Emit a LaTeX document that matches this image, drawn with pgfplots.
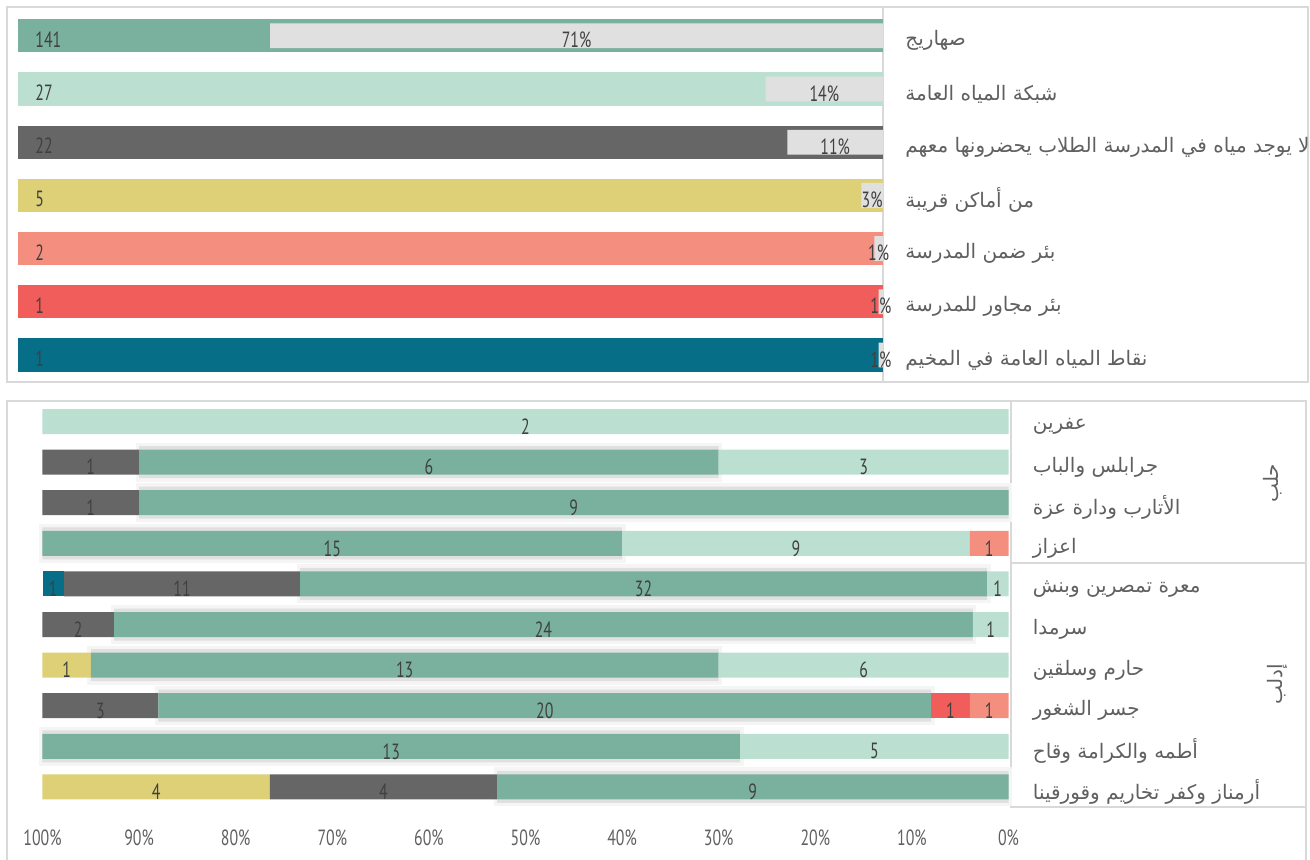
\documentclass[border=0pt]{standalone}
\usepackage{fontspec}
\usepackage{pgfplots}
\pgfplotsset{compat=1.18}
\TeXXeTstate=1
\setmainfont{PT Sans}[FakeStretch=0.72]
\newfontfamily\af[Script=Arabic]{DejaVu Sans}

\definecolor{cmid}{RGB}{122,177,158}
\definecolor{clight}{RGB}{187,224,210}
\definecolor{cdark}{RGB}{102,102,102}
\definecolor{cyellow}{RGB}{221,208,119}
\definecolor{csalmon}{RGB}{244,143,128}
\definecolor{cred}{RGB}{240,93,90}
\definecolor{cteal}{RGB}{7,110,135}
\definecolor{cpct}{RGB}{224,224,224}
\definecolor{cframe}{RGB}{217,217,217}
\definecolor{ctext}{RGB}{64,64,64}
\definecolor{clabel}{RGB}{96,96,96}

\tikzset{numfont/.style={font=\fontsize{11}{13}\selectfont, text=ctext}}
\pgfplotsset{
  bare/.style={
    scale only axis, clip=false,
    axis line style={draw=none}, tick style={draw=none},
  },
  bottomgeo/.style={
    at={(21.25pt,-200.6pt)}, anchor=north west,
    width=483pt, height=203pt,
    ymin=-0.5, ymax=9.5, y dir=reverse,
  },
}

\begin{document}
\begin{tikzpicture}
\useasboundingbox (0,0) rectangle (655pt,-430pt);

% frames
\draw[cframe, line width=1pt] (3.6pt,-3.6pt) rectangle (653.8pt,-190.9pt);
\draw[cframe, line width=1pt] (441.4pt,-3.6pt) -- (441.4pt,-190.9pt);
\draw[cframe, line width=1pt] (3.5pt,-440pt) -- (3.5pt,-200.5pt) -- (653pt,-200.5pt) -- (653pt,-440pt);
\draw[cframe, line width=1pt] (505.5pt,-200.5pt) -- (505.5pt,-403.5pt) -- (653pt,-403.5pt);
\draw[cframe, line width=1pt] (505.5pt,-281.6pt) -- (653pt,-281.6pt);

% ---- top panel: counts and shares
\begin{axis}[
  bare,
  at={(9pt,-4.6pt)}, anchor=north west,
  width=432.5pt, height=186.2pt,
  xmin=0, xmax=100, x dir=reverse,
  ymin=-0.5, ymax=6.5, y dir=reverse,
  xtick=\empty, ytick=\empty,
  cnt/.style={xbar, bar shift=0pt, bar width=16.6pt, draw=none,
    nodes near coords, point meta=explicit symbolic,
    every node near coord/.append style={numfont, anchor=west, inner sep=0pt,
      xshift=8.5pt, yshift=-1.8pt}},
  pct/.style={xbar, bar shift=0pt, bar width=12.4pt, draw=none, fill=cpct,
    nodes near coords, point meta=explicit symbolic,
    visualization depends on=rawx \as \rawxval,
    every node near coord/.append style={numfont, anchor=center, inner sep=0pt,
      shift={(axis direction cs:-\rawxval/2,0)}, yshift=-2.2pt}},
]
\addplot[cnt, fill=cmid]    coordinates {(100,0) [141]};
\addplot[cnt, fill=clight]  coordinates {(100,1) [27]};
\addplot[cnt, fill=cdark]   coordinates {(100,2) [22]};
\addplot[cnt, fill=cyellow] coordinates {(100,3) [5]};
\addplot[cnt, fill=csalmon] coordinates {(100,4) [2]};
\addplot[cnt, fill=cred]    coordinates {(100,5) [1]};
\addplot[cnt, fill=cteal]   coordinates {(100,6) [1]};
\addplot[pct] coordinates {(70.85,0) [71\%] (13.57,1) [14\%] (11.06,2) [11\%]
  (2.51,3) [3\%] (1.01,4) [1\%] (0.50,5) [1\%] (0.50,6) [1\%]};
\end{axis}

\begin{axis}[
  bare,
  at={(9pt,-4.6pt)}, anchor=north west,
  width=432.5pt, height=186.2pt,
  xmin=0, xmax=1, ymin=-0.5, ymax=6.5, y dir=reverse,
  xtick=\empty, ytick={0,...,6}, yticklabel pos=right,
  yticklabel style={anchor=west, inner sep=0pt, xshift=11pt, yshift=-2.5pt,
    font=\fontsize{10}{12}\selectfont, text=clabel},
  yticklabels={{\af\beginR صهاريج\endR},{\af\beginR شبكة المياه العامة\endR},
    {\af\beginR لا يوجد مياه في المدرسة الطلاب يحضرونها معهم\endR},
    {\af\beginR من أماكن قريبة\endR},{\af\beginR بئر ضمن المدرسة\endR},
    {\af\beginR بئر مجاور للمدرسة\endR},{\af\beginR نقاط المياه العامة في المخيم\endR}},
]
\end{axis}

% ---- bottom panel: soft shadow behind the tanker segments
\begin{axis}[
  bare, bottomgeo,
  xbar stacked, bar width=16pt,
  xmin=0, xmax=100, x dir=reverse,
  xtick=\empty, ytick=\empty,
]
% start of the tanker segment in each row (segments before it)
\addplot[draw=none, fill=none] coordinates {(100,0) (30,1) (0,2) (40,3) (2.22,4)
  (3.70,5) (30,6) (8,7) (27.78,8) (0,9)};
\addplot[draw=none, fill=black!12, preaction={draw=black!4, line width=3.5pt}]
  coordinates {(0,0) (60,1) (90,2) (60,3) (71.11,4)
  (88.89,5) (65,6) (80,7) (72.22,8) (52.94,9)};
\end{axis}

% ---- bottom panel: 100% stacked by district
\begin{axis}[
  bare, bottomgeo,
  xbar stacked, bar width=12.5pt,
  xmin=0, xmax=100, x dir=reverse,
  ytick=\empty,
  xtick={0,10,...,100},
  xticklabel={\pgfmathprintnumber{\tick}\%},
  /pgf/number format/assume math mode=true,
  xticklabel style={font=\fontsize{11}{13}\selectfont, text=clabel, yshift=-8pt},
  seg/.style={draw=none, nodes near coords, point meta=explicit symbolic,
    every node near coord/.append style={numfont, anchor=center, inner sep=0pt,
      yshift=-2.5pt}},
]
\addplot[seg, fill=csalmon] coordinates {(0,0)[] (0,1)[] (0,2)[] (4,3)[1] (0,4)[]
  (0,5)[] (0,6)[] (4,7)[1] (0,8)[] (0,9)[]};
\addplot[seg, fill=cred] coordinates {(0,0)[] (0,1)[] (0,2)[] (0,3)[] (0,4)[]
  (0,5)[] (0,6)[] (4,7)[1] (0,8)[] (0,9)[]};
\addplot[seg, fill=clight] coordinates {(100,0)[2] (30,1)[3] (0,2)[] (36,3)[9] (2.22,4)[1]
  (3.70,5)[1] (30,6)[6] (0,7)[] (27.78,8)[5] (0,9)[]};
\addplot[seg, fill=cmid] coordinates {(0,0)[] (60,1)[6] (90,2)[9] (60,3)[15] (71.11,4)[32]
  (88.89,5)[24] (65,6)[13] (80,7)[20] (72.22,8)[13] (52.94,9)[9]};
\addplot[seg, fill=cdark] coordinates {(0,0)[] (10,1)[1] (10,2)[1] (0,3)[] (24.44,4)[11]
  (7.41,5)[2] (0,6)[] (12,7)[3] (0,8)[] (23.53,9)[4]};
\addplot[seg, fill=cyellow] coordinates {(0,0)[] (0,1)[] (0,2)[] (0,3)[] (0,4)[]
  (0,5)[] (5,6)[1] (0,7)[] (0,8)[] (23.53,9)[4]};
\addplot[seg, fill=cteal] coordinates {(0,0)[] (0,1)[] (0,2)[] (0,3)[] (2.22,4)[1]
  (0,5)[] (0,6)[] (0,7)[] (0,8)[] (0,9)[]};
\end{axis}

\begin{axis}[
  bare, bottomgeo,
  xmin=0, xmax=1,
  xtick=\empty, ytick={0,...,9}, yticklabel pos=right,
  yticklabel style={anchor=west, inner sep=0pt, xshift=12pt, yshift=-2.5pt,
    font=\fontsize{10}{12}\selectfont, text=clabel},
  yticklabels={{\af\beginR عفرين\endR},{\af\beginR جرابلس والباب\endR},
    {\af\beginR الأتارب ودارة عزة\endR},{\af\beginR اعزاز\endR},
    {\af\beginR معرة تمصرين وبنش\endR},{\af\beginR سرمدا\endR},
    {\af\beginR حارم وسلقين\endR},{\af\beginR جسر الشغور\endR},
    {\af\beginR أطمه والكرامة وقاح\endR},{\af\beginR أرمناز وكفر تخاريم وقورقينا\endR}},
]
\end{axis}

\node[rotate=90, text=clabel, font=\fontsize{10}{12}\selectfont] at (636.5pt,-241.5pt) {\af\beginR حلب\endR};
\node[rotate=90, text=clabel, font=\fontsize{10}{12}\selectfont] at (638.5pt,-342pt) {\af\beginR إدلب\endR};
\end{tikzpicture}
\end{document}
